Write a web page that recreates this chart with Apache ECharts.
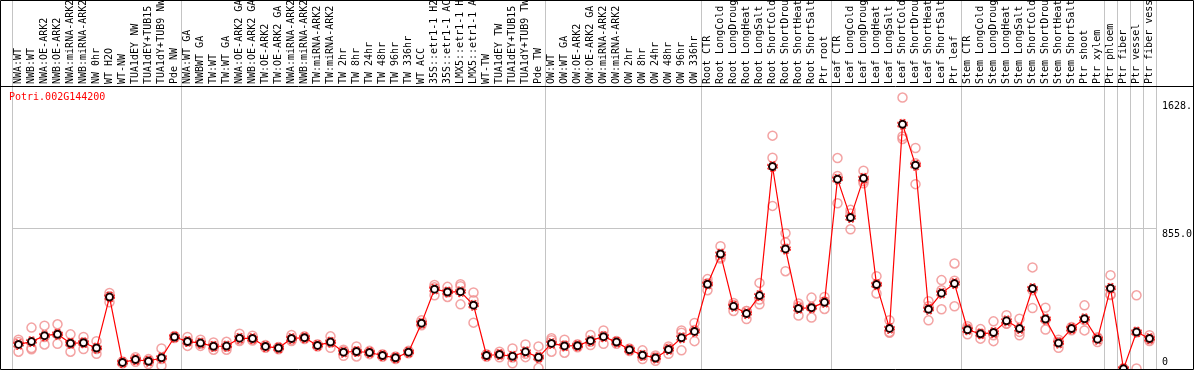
<!DOCTYPE html>
<html>
<head>
<meta charset="utf-8">
<script src="https://cdn.jsdelivr.net/npm/echarts@6/dist/echarts.min.js"></script>
<style>html,body{margin:0;padding:0;background:#fff}#c{width:1194px;height:370px}</style>
</head>
<body>
<div id="c"></div>
<script>
const chartTitle = 'Potri.002G144200';

const categories = [
  'NWA:WT','NWB:WT','NWA:OE-ARK2','NWB:OE-ARK2','NWA:miRNA-ARK2','NWB:miRNA-ARK2','NW 0hr','WT H2O','WT-NW','TUA1dEY NW','TUA1dEY+TUB15 NW','TUA1dY+TUB9 NW','Pde NW',
  'NWA:WT GA','NWBWT GA','TW:WT','TW:WT GA','NWA:OE-ARK2 GA','NWB:OE-ARK2 GA','TW:OE-ARK2','TW:OE-ARK2 GA','NWA:miRNA-ARK2','NWB:miRNA-ARK2','TW:miRNA-ARK2','TW:miRNA-ARK2','TW 2hr','TW 8hr','TW 24hr','TW 48hr','TW 96hr','TW 336hr','WT ACC','35S::etr1-1 H2O','35S::etr1-1 ACC','LMX5::etr1-1 H2O','LMX5::etr1-1 ACC','WT-TW','TUA1dEY TW','TUA1dEY+TUB15 TW','TUA1dY+TUB9 TW','Pde TW',
  'OW:WT','OW:WT GA','OW:OE-ARK2','OW:OE-ARK2 GA','OW:miRNA-ARK2','OW:miRNA-ARK2','OW 2hr','OW 8hr','OW 24hr','OW 48hr','OW 96hr','OW 336hr',
  'Root CTR','Root LongCold','Root LongDrought','Root LongHeat','Root LongSalt','Root ShortCold','Root ShortDrought','Root ShortHeat','Root ShortSalt','Ptr root',
  'Leaf CTR','Leaf LongCold','Leaf LongDrought','Leaf LongHeat','Leaf LongSalt','Leaf ShortCold','Leaf ShortDrought','Leaf ShortHeat','Leaf ShortSalt','Ptr leaf',
  'Stem CTR','Stem LongCold','Stem LongDrought','Stem LongHeat','Stem LongSalt','Stem ShortCold','Stem ShortDrought','Stem ShortHeat','Stem ShortSalt','Ptr shoot','Ptr xylem',
  'Ptr phloem','Ptr fiber','Ptr vessel','Ptr fiber vessel'
];

// index of first category of each sample group (vertical separators)
const groupStarts = [0, 13, 41, 53, 63, 73, 84, 85, 86, 87];

const means = [
  149,166,202,211,156,159,127,436,40,57,47,68,194,
  167,157,138,139,187,185,137,127,185,190,143,163,102,106,100,82,68,102,278,484,467,469,387,82,88,77,104,71,
  155,140,141,172,196,163,117,84,67,118,189,228,
  514,697,380,336,445,1228,728,367,372,404,
  1151,918,1156,512,246,1484,1236,362,460,518,
  238,213,221,292,245,488,303,157,245,305,181,
  490,1,224,185
];

const rep1 = [
  178,251,263,271,210,194,169,461,46,72,60,125,200,
  194,178,161,165,214,202,145,134,206,198,150,198,117,137,110,90,76,110,295,510,498,514,464,90,105,125,149,137,
  186,178,150,206,234,170,125,113,82,137,234,279,
  545,745,400,352,522,1415,823,397,433,437,
  1279,965,1202,563,295,1646,1340,411,539,640,
  259,242,289,326,305,616,372,178,255,386,192,
  569,2,447,205
];
const rep2 = [
  164,127,194,210,153,161,121,441,40,56,50,60,194,
  167,153,135,135,178,180,137,127,178,190,143,161,108,106,100,82,68,102,275,495,465,502,417,82,88,70,92,68,
  175,143,141,165,200,165,117,80,70,125,220,236,
  520,677,388,352,421,1281,768,380,372,410,
  1170,943,1140,514,224,1410,1247,380,478,535,
  245,214,205,275,225,478,298,163,245,295,188,
  452,1,222,180
];
const rep3 = [
  105,119,149,153,105,121,92,405,34,44,30,20,188,
  140,140,117,117,170,173,129,120,170,182,136,129,80,76,90,74,60,95,265,447,437,392,281,74,71,35,72,7,
  105,99,132,145,153,153,109,60,50,92,113,169,
  478,670,352,303,392,989,593,324,312,364,
  1005,847,1126,458,220,1395,1121,295,362,380,
  210,184,169,275,204,370,239,129,235,234,163,
  448,0,3,170
];

const yMin = 0;
const yMax = 1716;
const yTickValues = [0, 855, 1628];
const yTickLabels = ['0', '855.0', '1628.'];

const replicates = [];
[rep1, rep2, rep3].forEach(function (arr) {
  arr.forEach(function (v, i) { replicates.push([i, v]); });
});
const meanPoints = means.map(function (v, i) { return [i, v]; });

const mono = 'DejaVu Sans Mono';
const gridColor = '#c4c4c4';
const splitInterval = function (idx) { return groupStarts.indexOf(idx) >= 0; };

const chart = echarts.init(document.getElementById('c'), null, {renderer: 'canvas'});
chart.setOption({
  animation: false,
  backgroundColor: '#fff',
  title: {
    text: chartTitle, left: 4, top: 87,
    textStyle: {color: '#ff0000', fontSize: 10, fontWeight: 'normal', fontFamily: mono}
  },
  grid: [
    {left: 12, right: 38, top: 86, bottom: 1, containLabel: false, outerBoundsMode: 'none'},
    {left: 12, right: 38, top: 0, height: 86, containLabel: false, outerBoundsMode: 'none'}
  ],
  xAxis: [
    {
      gridIndex: 0, type: 'category', data: categories, position: 'top', boundaryGap: true,
      axisLine: {show: false}, axisTick: {show: false},
      axisLabel: {interval: 0, rotate: 90, margin: 2, align: 'left', verticalAlign: 'middle',
                  hideOverlap: false, fontSize: 10, fontFamily: mono, color: '#000'},
      splitLine: {show: true, interval: splitInterval, lineStyle: {color: gridColor, width: 1}}
    },
    {
      gridIndex: 1, type: 'category', data: categories, boundaryGap: true,
      axisLine: {show: false}, axisTick: {show: false}, axisLabel: {show: false},
      splitLine: {show: true, interval: splitInterval, lineStyle: {color: gridColor, width: 1}}
    }
  ],
  yAxis: [
    {
      gridIndex: 0, type: 'value', position: 'right', min: yMin, max: yMax,
      axisLine: {show: false}, axisTick: {show: false}, splitLine: {show: false},
      axisLabel: {
        customValues: yTickValues, margin: 6, align: 'left', color: '#000', fontSize: 10, fontFamily: mono,
        formatter: function (v) {
          const i = yTickValues.indexOf(v);
          const lab = i >= 0 ? yTickLabels[i] : '';
          return v === yMin ? '{up|' + lab + '}' : '{dn|' + lab + '}';
        },
        rich: {
          up: {padding: [0, 0, 14, 0], fontSize: 10, fontFamily: mono, color: '#000'},
          dn: {padding: [12, 0, 0, 0], fontSize: 10, fontFamily: mono, color: '#000'}
        }
      }
    },
    {gridIndex: 1, type: 'value', show: false}
  ],
  series: [
    {
      name: 'replicates', type: 'scatter', xAxisIndex: 0, yAxisIndex: 0, data: replicates,
      symbol: 'circle', symbolSize: 9, z: 2,
      itemStyle: {color: 'rgba(0,0,0,0)', borderColor: '#f08c8c', borderWidth: 1.5},
      markLine: {
        silent: true, symbol: 'none', z: 1, label: {show: false},
        lineStyle: {color: gridColor, type: 'solid', width: 1},
        data: [{yAxis: yTickValues[1]}]
      }
    },
    {
      name: 'mean', type: 'line', xAxisIndex: 0, yAxisIndex: 0, data: means, z: 3,
      symbol: 'emptyCircle', symbolSize: 7, showAllSymbol: true,
      lineStyle: {color: '#ff0000', width: 1.2},
      itemStyle: {color: '#1a0000', borderWidth: 1.2}
    },
    {
      name: 'meanRing', type: 'scatter', xAxisIndex: 0, yAxisIndex: 0, data: meanPoints, z: 4,
      symbol: 'circle', symbolSize: 10, silent: true,
      itemStyle: {color: 'rgba(0,0,0,0)', borderColor: '#ff0000', borderWidth: 1.2, borderType: [2, 2]}
    }
  ],
  graphic: [
    {type: 'rect', silent: true, z: 100, shape: {x: 0.5, y: 0.5, width: 1193, height: 369},
     style: {fill: null, stroke: '#000', lineWidth: 1}},
    {type: 'line', silent: true, z: 100, shape: {x1: 0, y1: 86.5, x2: 1194, y2: 86.5},
     style: {stroke: '#000', lineWidth: 1}}
  ]
});
</script>
</body>
</html>
